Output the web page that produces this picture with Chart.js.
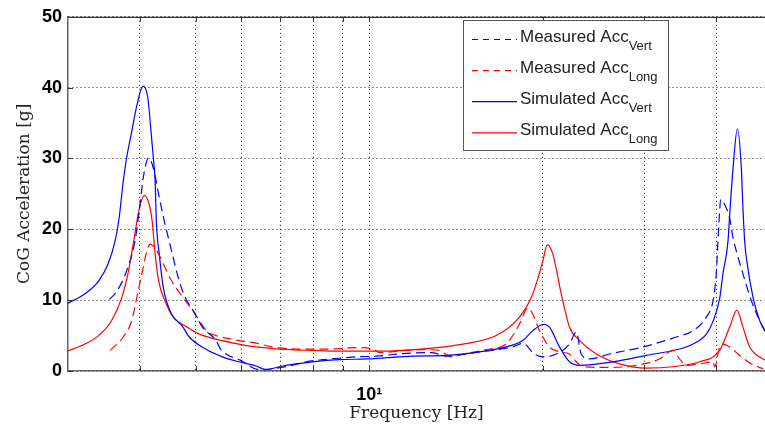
<!DOCTYPE html>
<html lang="en">
<head>
  <meta charset="UTF-8" />
  <title>CoG Acceleration vs Frequency</title>
  <script src="https://cdn.jsdelivr.net/npm/chart.js"></script>
  <style>
    html, body { margin: 0; padding: 0; background: #fff; overflow: hidden; }
    #wrap { width: 765px; height: 434px; position: relative; }
  </style>
</head>
<body>
<div id="wrap"><canvas id="accChart" width="765" height="434"></canvas></div>
<script>
  // frequency [Hz] / acceleration [g]
  const measVertFreq = [3.54, 3.65, 3.79, 3.92, 4.00, 4.06, 4.14, 4.22, 4.31, 4.41, 4.54, 4.66, 4.79, 4.95, 5.13, 5.42, 5.53, 5.98, 6.44, 7.26, 7.76, 8.30, 8.87, 9.48, 10.27, 11.58, 12.86, 13.59, 15.53, 17.74, 18.46, 19.35, 20.0, 21.10, 22.25, 22.86, 23.32, 24.11, 26.12, 29.85, 34.09, 36.44, 38.45, 39.48, 40.0, 40.27, 40.54, 40.71, 41.36, 42.2, 42.77, 43.35, 44.5, 46.03, 47.59, 48.55];
  const measVertAcc  = [10.1, 11.3, 14.1, 18.3, 23.5, 27.7, 30.1, 28.6, 24.9, 21.1, 16.9, 13.2, 10.4, 8.5, 6.2, 4.3, 3.0, 1.5, 0.2, 0.7, 1.3, 1.6, 1.8, 2.0, 2.1, 2.5, 2.6, 2.1, 2.7, 3.4, 3.9, 2.4, 2.0, 2.4, 3.8, 5.5, 2.4, 1.7, 2.4, 3.4, 4.8, 5.7, 7.6, 9.9, 13.7, 18.3, 22.5, 24.2, 23.5, 21.6, 18.8, 16.9, 13.7, 9.9, 7.1, 5.7];

  const measLongFreq = [3.55, 3.74, 3.87, 3.95, 4.03, 4.11, 4.17, 4.22, 4.31, 4.42, 4.54, 4.70, 4.89, 4.99, 5.24, 5.42, 5.94, 6.31, 6.79, 7.56, 8.52, 9.48, 10.2, 10.41, 11.58, 12.54, 13.23, 13.87, 14.53, 16.16, 17.28, 18.22, 18.84, 19.22, 19.74, 20.54, 21.38, 22.25, 22.86, 23.47, 26.12, 29.06, 31.9, 33.64, 34.55, 35.49, 37.43, 39.48, 39.74, 40.54, 41.08, 42.2, 43.92, 46.03, 48.23];
  const measLongAcc  = [2.9, 4.8, 7.1, 10.4, 13.7, 16.9, 17.9, 17.6, 16.5, 14.6, 12.7, 10.9, 9.0, 8.0, 5.5, 5.0, 4.3, 4.0, 3.4, 3.1, 3.1, 3.3, 3.0, 2.6, 2.9, 3.0, 2.9, 2.0, 2.4, 3.1, 3.8, 6.6, 8.9, 8.0, 5.7, 3.4, 2.7, 2.4, 1.3, 0.6, 0.5, 0.8, 1.7, 2.9, 1.7, 0.8, 1.0, 1.3, 0.6, 3.4, 3.8, 3.4, 2.2, 1.0, 0.3];

  const simVertFreq = [2.99, 3.21, 3.39, 3.52, 3.62, 3.68, 3.74, 3.79, 3.87, 3.95, 4.05, 4.13, 4.18, 4.22, 4.25, 4.27, 4.32, 4.39, 4.54, 4.73, 4.87, 5.20, 5.56, 5.94, 6.36, 6.62, 6.98, 7.46, 7.97, 8.87, 9.87, 10.41, 11.89, 13.59, 15.53, 17.28, 18.46, 19.22, 20.08, 20.54, 21.38, 22.25, 23.17, 26.47, 30.25, 34.55, 36.44, 38.45, 39.48, 40.54, 41.08, 41.92, 42.2, 42.77, 43.52, 44.22, 44.5, 44.81, 45.11, 46.33, 47.59, 48.55];
  const simVertAcc  = [9.5, 10.9, 12.7, 15.1, 18.3, 21.6, 26.7, 30.0, 33.8, 37.5, 40.2, 38.4, 33.8, 30.0, 26.7, 21.1, 16.5, 11.8, 8.0, 6.4, 4.8, 3.1, 2.0, 1.3, 0.7, 0.2, 0.6, 1.0, 1.3, 1.6, 1.7, 1.8, 2.1, 2.2, 2.7, 3.4, 4.3, 5.7, 6.6, 6.2, 3.4, 1.3, 0.8, 1.3, 2.2, 3.1, 3.8, 5.2, 7.0, 10.2, 13.7, 18.3, 22.0, 28.6, 34.2, 28.6, 23.0, 18.3, 16.0, 10.4, 7.1, 5.7];

  const simLongFreq = [2.99, 3.17, 3.39, 3.57, 3.72, 3.82, 3.90, 3.95, 3.99, 4.07, 4.15, 4.20, 4.25, 4.31, 4.42, 4.55, 4.80, 5.07, 5.42, 5.94, 6.36, 6.98, 7.97, 8.87, 10.0, 10.41, 12.71, 14.53, 16.60, 18.22, 19.22, 20.0, 20.36, 20.82, 21.53, 22.25, 23.17, 24.77, 27.19, 30.25, 33.64, 37.43, 40.54, 42.2, 43.45, 44.5, 45.72, 48.55];
  const simLongAcc  = [2.8, 3.6, 5.0, 7.1, 10.4, 14.1, 18.3, 21.1, 23.0, 24.8, 23.5, 21.1, 16.5, 12.7, 9.9, 7.8, 6.3, 5.2, 4.5, 3.8, 3.4, 3.1, 2.9, 2.8, 2.8, 2.8, 3.2, 3.8, 5.0, 7.6, 10.9, 15.5, 17.8, 16.5, 10.9, 6.2, 4.3, 2.4, 1.0, 0.4, 0.6, 1.3, 2.9, 6.2, 8.6, 6.2, 3.4, 1.5];

  const seriesNames = ['Measured Acc', 'Measured Acc', 'Simulated Acc', 'Simulated Acc'];
  const seriesSubs  = ['Vert', 'Long', 'Vert', 'Long'];
  const xTickValues = [4, 5, 6, 7, 8, 9, 10, 20, 30, 40];
  const xTickLabels = { 10: '10\u00B9' };
  const yTickValues = [0, 10, 20, 30, 40, 50];

  const BLUE = '#0000ff';
  const RED = '#ff0000';
  const DASH = [9, 5];

  function pts(fs, vs) {
    return fs.map((f, i) => ({ x: f, y: vs[i] }));
  }

  // matlab style frame: top edge + inward ticks
  const framePlugin = {
    id: 'frame',
    afterDraw(chart) {
      const { ctx, chartArea: a, scales } = chart;
      ctx.save();
      ctx.strokeStyle = '#000';
      ctx.lineWidth = 1;
      ctx.beginPath();
      ctx.moveTo(a.left, a.top + 0.5);
      ctx.lineTo(a.right, a.top + 0.5);
      ctx.stroke();
      ctx.strokeStyle = '#333';
      ctx.beginPath();
      xTickValues.forEach(v => {
        const x = Math.round(scales.x.getPixelForValue(v)) + 0.5;
        ctx.moveTo(x, a.bottom); ctx.lineTo(x, a.bottom - 5);
        ctx.moveTo(x, a.top); ctx.lineTo(x, a.top + 5);
      });
      yTickValues.forEach(v => {
        const y = Math.round(scales.y.getPixelForValue(v)) + 0.5;
        ctx.moveTo(a.left, y); ctx.lineTo(a.left + 5, y);
      });
      ctx.stroke();
      ctx.restore();
    }
  };

  // legend box with subscripts
  const legendPlugin = {
    id: 'subLegend',
    afterDraw(chart) {
      const ctx = chart.ctx;
      const box = { x: 463.5, y: 20.5, w: 205, h: 130 };
      ctx.save();
      ctx.fillStyle = '#fff';
      ctx.fillRect(box.x, box.y, box.w, box.h);
      ctx.strokeStyle = '#555';
      ctx.lineWidth = 1;
      ctx.strokeRect(box.x, box.y, box.w, box.h);
      chart.data.datasets.forEach((ds, i) => {
        const ly = 39.5 + i * 31.1;
        ctx.strokeStyle = ds.borderColor;
        ctx.lineWidth = 1.2;
        ctx.setLineDash(ds.borderDash && ds.borderDash.length ? [6, 5] : []);
        ctx.beginPath();
        ctx.moveTo(472, ly);
        ctx.lineTo(517, ly);
        ctx.stroke();
        ctx.setLineDash([]);
        ctx.fillStyle = '#222';
        ctx.textBaseline = 'alphabetic';
        ctx.font = '17px "Liberation Sans", Arial, sans-serif';
        ctx.fillText(seriesNames[i], 520, ly + 2.5);
        const w = ctx.measureText(seriesNames[i]).width;
        ctx.font = '13px "Liberation Sans", Arial, sans-serif';
        ctx.fillText(seriesSubs[i], 520 + w, ly + 10.5);
      });
      ctx.restore();
    }
  };

  const lineDs = (label, data, color, dash) => ({
    label, data,
    borderColor: color,
    borderWidth: 1.2,
    borderDash: dash,
    pointRadius: 0,
    fill: false,
    cubicInterpolationMode: 'monotone'
  });

  new Chart(document.getElementById('accChart'), {
    type: 'line',
    data: {
      datasets: [
        lineDs('Measured Acc Vert', pts(measVertFreq, measVertAcc), BLUE, DASH),
        lineDs('Measured Acc Long', pts(measLongFreq, measLongAcc), RED, DASH),
        lineDs('Simulated Acc Vert', pts(simVertFreq, simVertAcc), BLUE, []),
        lineDs('Simulated Acc Long', pts(simLongFreq, simLongAcc), RED, [])
      ]
    },
    options: {
      responsive: false,
      animation: false,
      layout: { padding: { top: 14, right: 0, left: 0, bottom: 0 } },
      plugins: { legend: { display: false }, tooltip: { enabled: false } },
      scales: {
        x: {
          type: 'logarithmic',
          min: 3,
          max: 48.6,
          afterBuildTicks: s => { s.ticks = xTickValues.map(v => ({ value: v })); },
          afterFit: s => { s.height = 63; },
          grid: { color: '#222', lineWidth: 1, drawTicks: false },
          border: { display: true, color: '#666', width: 1.5, dash: [1, 3] },
          ticks: {
            autoSkip: false,
            maxRotation: 0,
            padding: 13,
            color: '#000',
            font: { family: '"Liberation Sans", Arial, sans-serif', size: 18, weight: 'bold' },
            callback: v => xTickLabels[v] || ''
          },
          title: {
            display: true,
            text: 'Frequency [Hz]',
            color: '#222',
            padding: { top: 0, bottom: 10 },
            font: { family: '"DejaVu Serif", serif', size: 17 }
          }
        },
        y: {
          min: 0,
          max: 50,
          afterBuildTicks: s => { s.ticks = yTickValues.map(v => ({ value: v })); },
          afterFit: s => { s.width = 68; },
          grid: { color: '#222', lineWidth: 1, drawTicks: false },
          border: { display: true, color: '#666', width: 1.5, dash: [1, 3] },
          ticks: {
            padding: 6,
            color: '#000',
            font: { family: '"Liberation Sans", Arial, sans-serif', size: 18, weight: 'bold' }
          },
          title: {
            display: true,
            text: 'CoG Acceleration [g]',
            color: '#222',
            padding: { top: 14, bottom: 0 },
            font: { family: '"DejaVu Serif", serif', size: 17 }
          }
        }
      }
    },
    plugins: [framePlugin, legendPlugin]
  });
</script>
</body>
</html>
